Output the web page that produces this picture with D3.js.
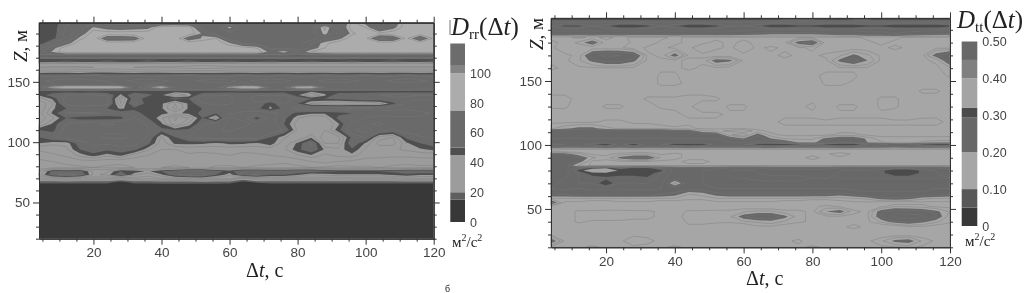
<!DOCTYPE html>
<html>
<head>
<meta charset="utf-8">
<script src="https://cdn.jsdelivr.net/npm/d3@7"></script>
<style>
  html, body { margin: 0; padding: 0; background: #fff; overflow: hidden; }
  .tick text { font-family: "Liberation Sans", sans-serif; fill: #444; }
  .serif { font-family: "Liberation Serif", serif; fill: #222; }
</style>
</head>
<body>
<svg id="chart" width="1024" height="293"></svg>
<script>
// lag values, same for both panels
const dtValues = [4, 8, 12, 16, 20, 24, 28, 32, 36, 40, 44, 48, 52, 56, 60, 64, 68, 72, 76, 80, 84, 88, 92, 96, 100, 104, 108, 112, 116, 120]

// D_rr, heights are not evenly spaced because the thin layers need more rows
const rrZ = [20, 40, 62, 65, 67, 70, 73, 76, 79, 84, 89, 94, 99, 104, 110, 115, 120, 124, 128, 132, 136, 139, 142, 143.8, 145.5, 147.2, 151, 155, 157, 159, 162, 165, 167, 168.5, 170, 171.5, 173, 175, 178, 182, 186, 190, 195, 199]
const rrGrid = [
  [6,6,6,7,7, 6,6,6,6,7, 7,6,6,6,6, 6,7,7,6,6, 6,6,7,7,6, 6,6,6,6,6],
  [9,9,9,8,9, 9,9,9,8,9, 9,9,9,8,9, 9,9,9,9,8, 9,9,9,9,9, 9,8,9,9,9],
  [11,11,11,11,11, 11,10,11,11,11, 11,11,11,11,11, 10,11,11,11,11, 11,11,11,11,11, 11,11,11,11,11],
  [14,14,14,14,14, 14,12,14,14,14, 14,14,14,14,14, 11,13,14,14,14, 14,14,14,14,14, 14,14,14,14,14],
  [17,17,17,17,17, 17,14,17,17,18, 18,18,18,18,17, 14,16,17,17,17, 17,17,17,17,17, 17,17,17,17,17],
  [32,34,35,34,33, 33,27,34,33,36, 38,38,40,36,38, 24,33,34,34,34, 34,34,32,34,34, 34,34,36,36,36],
  [38,55,60,56,40, 42,56,42,38,44, 55,62,60,50,42, 55,58,50,50,46, 40,42,44,44,44, 44,46,48,46,46],
  [34,52,50,52,40, 40,50,48,44,50, 55,60,58,52,48, 55,56,54,55,56, 55,52,50,50,50, 50,52,55,55,55],
  [28,29,30,30,31, 30,30,31,32,31, 30,31,32,30,30, 31,30,29,29,30, 31,30,29,30,30, 31,30,29,30,30],
  [30,31,32,34,34, 33,32,33,34,33, 33,34,35,34,33, 34,33,33,32,33, 36,38,36,35,34, 33,33,33,33,33],
  [33,35,37,42,47, 42,46,38,36,35, 35,35,35,35,36, 35,35,36,37,40, 44,40,42,43,38, 38,37,37,38,38],
  [37,38,40,50,55, 52,54,52,42,36, 36,38,37,38,38, 37,38,38,40,48, 56,44,42,49,40, 40,40,42,44,46],
  [45,42,42,54,58, 58,60,60,52,38, 46,46,46,44,46, 46,44,48,38,46, 58,36,36,56,44, 34,34,44,50,54],
  [50,56,60,62,62, 64,64,62,56,40, 50,58,60,60,60, 60,60,50,42,36, 44,32,34,52,58, 38,36,52,56,58],
  [50,48,60,62,62, 62,62,62,58,52, 50,52,60,62,64, 60,62,62,56,40, 36,36,48,62,66, 60,56,60,62,62],
  [36,46,58,60,62, 64,62,62,56,46, 32,42,56,60,64, 66,60,62,50,38, 36,36,44,60,62, 64,60,58,60,60],
  [32,40,50,47,46, 46,48,58,50,42, 30,36,50,38,64, 60,47,60,52,42, 36,38,52,50,58, 62,60,60,58,58],
  [34,46,58,58,58, 56,54,54,46,46, 44,46,52,50,56, 60,60,60,54,48, 46,46,48,50,50, 52,50,50,54,58],
  [30,44,50,52,50, 50,44,48,50,46, 34,46,50,52,50, 50,52,44,52,60, 62,62,62,64,64, 62,62,60,62,62],
  [32,40,60,62,62, 60,36,60,46,46, 36,46,56,60,58, 52,56,46,58,50, 40,38,36,36,36, 38,48,58,60,60],
  [38,46,60,62,62, 60,34,55,46,48, 52,50,62,60,60, 52,62,60,60,56, 50,50,52,54,56, 56,56,56,56,56],
  [46,54,57,58,58, 56,44,56,52,46, 36,42,56,56,57, 56,57,56,57,46, 36,44,54,56,56, 57,58,58,57,57],
  [47,46,47,46,47, 46,47,47,47,46, 47,47,46,47,47, 47,46,47,47,47, 46,47,47,46,47, 47,47,47,47,47],
  [62,64,66,66,66, 66,64,60,62,64, 60,60,60,60,62, 66,66,60,62,64, 64,62,60,62,60, 60,60,60,60,60],
  [60,84,95,95,95, 95,95,60,70,92, 60,60,60,60,80, 95,95,60,62,90, 92,62,60,62,60, 60,60,60,60,60],
  [60,62,66,66,66, 66,62,60,62,62, 60,60,60,60,62, 66,62,60,60,62, 62,60,60,60,60, 60,60,60,60,60],
  [62,64,66,66,64, 62,62,64,66,64, 62,62,64,66,64, 62,64,66,64,62, 62,64,66,64,62, 62,64,66,64,62],
  [56,56,56,58,58, 56,56,58,56,56, 58,58,56,56,56, 58,56,56,58,56, 56,58,56,56,58, 56,56,58,56,56],
  [46,47,47,46,48, 47,47,46,47,47, 46,47,47,46,47, 47,46,47,47,46, 47,47,46,47,47, 46,47,47,46,47],
  [38,38,39,40,40, 41,40,39,38,38, 37,37,37,37,38, 38,38,38,38,38, 38,38,38,38,38, 38,38,38,38,38],
  [30,30,30,30,31, 32,32,31,30,30, 30,29,28,29,30, 30,30,30,30,30, 30,30,30,30,30, 30,30,30,30,30],
  [36,35,35,34,35, 36,36,36,35,35, 35,34,34,34,34, 34,34,34,35,35, 35,35,35,35,35, 35,35,35,35,35],
  [50,50,52,50,50, 52,50,50,52,50, 50,52,50,50,52, 50,50,52,50,50, 52,50,50,52,50, 50,52,50,50,52],
  [46,47,46,45,46, 47,46,45,47,46, 45,47,46,45,46, 47,46,45,47,46, 45,46,47,46,45, 46,47,46,45,46],
  [62,60,62,60,62, 60,62,60,62,60, 62,60,62,60,62, 60,62,60,62,60, 62,60,62,60,62, 60,62,60,62,60],
  [48,47,47,48,47, 47,48,47,47,48, 47,47,48,47,47, 48,47,47,48,47, 47,48,47,47,48, 47,47,48,47,47],
  [66,68,72,72,72, 72,72,72,72,72, 72,72,72,72,72, 72,72,68,70,66, 68,70,72,72,72, 72,72,72,72,72],
  [66,76,85,85,85, 85,85,85,85,85, 85,85,85,85,85, 85,85,72,78,68, 80,85,85,85,85, 85,85,85,85,85],
  [60,72,85,85,85, 85,85,85,85,85, 85,85,85,85,85, 85,80,62,62,60, 70,80,85,85,85, 85,85,85,85,85],
  [46,58,70,85,85, 85,85,85,85,85, 85,85,85,85,76, 62,60,60,60,60, 68,78,85,85,85, 85,85,85,85,85],
  [46,48,58,78,85, 66,66,68,85,85, 85,68,76,80,60, 60,60,60,60,60, 60,66,72,85,82, 62,64,82,64,82],
  [46,46,60,68,85, 85,85,85,85,85, 85,85,74,60,60, 60,60,60,60,60, 60,78,60,78,85, 82,85,85,85,85],
  [46,46,58,62,76, 70,68,70,72,85, 85,85,60,60,78, 60,60,60,60,60, 60,82,62,85,80, 62,72,85,85,85],
  [46,46,55,60,60, 60,60,60,60,62, 64,62,60,60,60, 60,60,60,60,60, 60,60,60,82,72, 60,66,85,85,85]
]
const rrBreaks = [0, 15, 20, 45, 50, 75, 100, 105, 120]
const rrLines = [25, 31, 36, 41, 57, 63, 68, 80]
const rrBarTicks = [0, 20, 40, 60, 80, 100]

// D_tt
const ttZ = [20, 25, 30, 36, 40, 44, 48, 52, 55, 58, 61, 66, 70, 74, 78, 80, 82, 84, 87, 90, 93, 95, 97, 99, 100.5, 102, 105, 108, 111, 113, 118, 124, 130, 136, 142, 148, 154, 160, 166, 170, 176, 180, 184, 187, 190, 193, 196, 199]
const ttGrid = [
  [.15,.15,.15,.16,.15, .15,.15,.15,.15,.16, .15,.15,.15,.15,.15, .14,.15,.15,.15,.16, .15,.15,.15,.15,.15, .15,.16,.15,.15,.15],
  [.23,.15,.14,.14,.15, .15,.17,.16,.15,.14, .14,.14,.14,.15,.15, .14,.14,.15,.16,.14, .14,.14,.15,.15,.17, .21,.22,.17,.15,.15],
  [.15,.15,.14,.14,.14, .15,.15,.15,.15,.15, .14,.13,.13,.14,.14, .13,.13,.14,.14,.13, .13,.13,.14,.14,.14, .14,.14,.14,.14,.14],
  [.15,.14,.14,.15,.15, .15,.14,.13,.13,.13, .15,.15,.14,.13,.13, .15,.15,.14,.13,.13, .15,.15,.16,.15,.13, .13,.15,.15,.14,.14],
  [.15,.14,.16,.15,.15, .15,.14,.15,.15,.14, .16,.16,.16,.16,.17, .18,.19,.17,.16,.15, .15,.15,.15,.15,.18, .22,.23,.21,.18,.16],
  [.15,.14,.16,.17,.17, .17,.17,.16,.15,.14, .17,.17,.17,.17,.22, .25,.25,.21,.16,.15, .15,.15,.15,.15,.23, .27,.28,.27,.23,.16],
  [.15,.14,.16,.16,.16, .16,.16,.16,.15,.14, .16,.16,.16,.16,.17, .18,.18,.16,.16,.15, .20,.22,.16,.15,.22, .25,.24,.24,.21,.17],
  [.15,.14,.13,.13,.14, .14,.13,.13,.14,.14, .13,.13,.14,.14,.14, .13,.13,.14,.14,.15, .16,.15,.14,.14,.15, .17,.17,.16,.15,.15],
  [.24,.15,.15,.14,.14, .15,.15,.15,.14,.14, .14,.14,.15,.15,.15, .15,.15,.14,.14,.14, .14,.15,.15,.15,.14, .14,.14,.15,.15,.15],
  [.17,.17,.17,.17,.17, .17,.17,.17,.17,.17, .16,.16,.17,.17,.17, .17,.17,.17,.17,.16, .16,.16,.17,.18,.21, .22,.21,.18,.17,.17],
  [.22,.22,.23,.23,.23, .23,.23,.23,.22,.21, .17,.18,.21,.22,.22, .22,.22,.22,.22,.22, .22,.21,.22,.25,.25, .25,.25,.25,.24,.22],
  [.26,.27,.26,.27,.27, .27,.27,.27,.26,.25, .24,.24,.26,.26,.26, .26,.26,.26,.26,.26, .26,.26,.27,.27,.27, .27,.27,.27,.26,.26],
  [.25,.27,.28,.28,.31, .28,.28,.28,.27,.16, .25,.26,.27,.27,.27, .27,.27,.27,.27,.27, .27,.27,.27,.27,.27, .27,.27,.27,.27,.27],
  [.24,.26,.28,.28,.29, .29,.28,.29,.27,.24, .25,.26,.27,.28,.28, .29,.29,.29,.29,.28, .28,.28,.28,.28,.28, .28,.28,.28,.28,.28],
  [.24,.25,.28,.31,.31, .30,.31,.31,.28,.25, .25,.26,.27,.28,.28, .28,.27,.27,.27,.27, .27,.28,.28,.28,.29, .31,.31,.29,.28,.27],
  [.24,.25,.30,.36,.38, .31,.31,.31,.30,.25, .25,.26,.27,.28,.28, .28,.27,.27,.27,.27, .27,.28,.28,.28,.29, .31,.31,.29,.28,.27],
  [.24,.24,.27,.30,.31, .28,.30,.30,.27,.25, .24,.24,.25,.26,.26, .26,.25,.25,.25,.25, .25,.26,.26,.26,.26, .27,.27,.26,.26,.25],
  [.24,.24,.17,.15,.15, .15,.15,.15,.15,.15, .15,.15,.15,.15,.15, .15,.15,.15,.15,.15, .15,.15,.15,.15,.15, .15,.15,.15,.15,.15],
  [.25,.25,.22,.15,.15, .15,.15,.15,.15,.15, .16,.16,.15,.15,.15, .15,.15,.15,.15,.15, .15,.15,.15,.15,.15, .15,.15,.15,.15,.15],
  [.25,.26,.24,.18,.16, .21,.24,.24,.17,.16, .15,.15,.15,.15,.15, .15,.15,.15,.15,.16, .15,.15,.15,.15,.15, .15,.15,.15,.15,.15],
  [.24,.22,.18,.15,.15, .16,.17,.17,.15,.16, .15,.14,.14,.15,.15, .15,.15,.15,.15,.15, .15,.17,.15,.14,.14, .14,.14,.14,.14,.14],
  [.14,.14,.14,.14,.14, .14,.14,.14,.14,.14, .14,.14,.14,.14,.14, .14,.14,.14,.14,.14, .14,.14,.14,.14,.14, .14,.14,.14,.14,.14],
  [.17,.16,.16,.16,.16, .16,.16,.16,.16,.16, .16,.16,.16,.16,.16, .16,.16,.16,.16,.16, .16,.16,.16,.16,.16, .16,.16,.16,.16,.16],
  [.27,.27,.26,.26,.28, .26,.28,.26,.26,.26, .28,.27,.26,.26,.27, .27,.28,.27,.26,.26, .27,.28,.28,.26,.25, .24,.25,.27,.27,.27],
  [.28,.28,.27,.29,.31, .27,.31,.27,.28,.31, .31,.31,.27,.27,.28, .30,.31,.31,.30,.28, .30,.31,.31,.28,.27, .25,.26,.30,.31,.31],
  [.26,.26,.26,.26,.26, .26,.26,.26,.26,.26, .26,.26,.26,.26,.26, .27,.26,.24,.20,.19, .23,.25,.25,.20,.18, .16,.16,.18,.19,.19],
  [.26,.26,.26,.26,.26, .26,.26,.26,.26,.26, .26,.26,.26,.24,.20, .24,.20,.17,.17,.17, .21,.24,.24,.19,.16, .16,.16,.16,.16,.16],
  [.25,.25,.25,.25,.25, .25,.25,.25,.25,.25, .25,.25,.24,.16,.13, .22,.16,.15,.15,.15, .15,.16,.16,.15,.15, .15,.15,.15,.15,.15],
  [.25,.25,.25,.26,.25, .25,.25,.25,.25,.23, .23,.18,.17,.18,.20, .16,.15,.15,.15,.15, .15,.15,.15,.15,.15, .15,.15,.15,.15,.15],
  [.17,.19,.21,.21,.18, .17,.17,.17,.17,.16, .16,.15,.15,.15,.15, .15,.15,.15,.15,.15, .15,.15,.15,.15,.15, .15,.15,.15,.15,.15],
  [.15,.15,.15,.15,.16, .16,.15,.15,.14,.14, .15,.15,.15,.15,.15, .15,.15,.16,.16,.16, .16,.16,.16,.16,.16, .16,.16,.16,.16,.15],
  [.14,.14,.14,.14,.14, .14,.14,.14,.14,.15, .16,.16,.16,.15,.15, .15,.15,.15,.15,.15, .14,.15,.15,.15,.15, .14,.14,.15,.15,.15],
  [.16,.16,.14,.14,.16, .16,.14,.14,.16,.16, .16,.14,.14,.16,.16, .14,.14,.14,.15,.16, .14,.16,.16,.14,.16, .16,.14,.14,.14,.14],
  [.16,.16,.15,.14,.14, .14,.14,.16,.16,.16, .16,.16,.16,.14,.14, .14,.14,.14,.14,.15, .14,.14,.14,.14,.16, .16,.14,.14,.14,.14],
  [.15,.15,.14,.14,.14, .14,.14,.14,.14,.14, .15,.15,.14,.14,.14, .14,.14,.14,.15,.14, .14,.14,.14,.15,.14, .14,.14,.16,.16,.14],
  [.14,.14,.14,.14,.15, .15,.14,.14,.16,.16, .15,.14,.14,.15,.15, .15,.15,.14,.14,.14, .16,.16,.15,.14,.14, .14,.14,.14,.14,.14],
  [.14,.14,.14,.14,.14, .14,.14,.14,.16,.16, .14,.14,.14,.14,.14, .14,.14,.14,.15,.15, .16,.16,.16,.14,.14, .14,.14,.14,.14,.16],
  [.16,.15,.15,.15,.15, .15,.15,.15,.15,.15, .16,.15,.15,.14,.14, .14,.15,.15,.15,.15, .15,.15,.15,.15,.15, .15,.15,.15,.15,.17],
  [.15,.15,.17,.21,.24, .24,.21,.15,.15,.15, .16,.16,.22,.21,.15, .15,.14,.15,.15,.15, .15,.21,.24,.20,.15, .14,.15,.15,.16,.24],
  [.14,.15,.16,.25,.27, .26,.25,.15,.16,.22, .15,.15,.14,.14,.15, .15,.15,.16,.15,.15, .16,.17,.21,.18,.15, .14,.15,.15,.22,.26],
  [.15,.17,.16,.16,.16, .16,.14,.16,.16,.15, .15,.17,.16,.15,.17, .15,.16,.15,.15,.16, .14,.14,.14,.14,.15, .16,.15,.14,.15,.15],
  [.15,.16,.18,.23,.16, .17,.15,.14,.16,.16, .15,.15,.16,.15,.16, .15,.14,.15,.22,.24, .14,.14,.15,.15,.16, .15,.14,.14,.15,.15],
  [.16,.16,.15,.16,.15, .16,.15,.15,.15,.16, .15,.15,.15,.15,.15, .15,.15,.15,.15,.15, .15,.15,.15,.16,.16, .16,.15,.15,.15,.15],
  [.24,.24,.24,.24,.24, .24,.24,.24,.24,.24, .24,.24,.24,.24,.23, .22,.21,.21,.21,.21, .22,.24,.24,.25,.25, .26,.25,.24,.23,.22],
  [.27,.27,.27,.27,.27, .27,.27,.27,.27,.27, .27,.27,.27,.27,.27, .26,.26,.26,.26,.26, .27,.27,.27,.27,.27, .27,.27,.27,.27,.27],
  [.28,.30,.30,.28,.29, .31,.31,.30,.28,.29, .31,.31,.30,.28,.28, .29,.31,.31,.30,.30, .31,.31,.31,.30,.30, .31,.31,.31,.31,.30],
  [.26,.26,.26,.26,.26, .26,.26,.26,.26,.26, .26,.26,.26,.26,.26, .26,.26,.26,.26,.26, .26,.26,.26,.26,.26, .26,.26,.26,.26,.26],
  [.24,.24,.24,.24,.24, .24,.24,.24,.24,.24, .24,.24,.24,.24,.23, .23,.20,.17,.17,.17, .21,.23,.17,.16,.22, .24,.24,.22,.21,.24]
]
const ttBreaks = [0, .05, .1, .2, .295, .32, .4, .45, .5]
const ttLines = [.125, .155, .175, .225, .26, .28]
const ttBarTicks = [0, .1, .2, .3, .4, .5]

const xMajor = [20, 40, 60, 80, 100, 120]
const xMinor = [5, 10, 15, 25, 30, 35, 45, 50, 55, 65, 70, 75, 85, 90, 95, 105, 110, 115]
const zMajor = [50, 100, 150]
const zMinor = [20, 30, 40, 60, 70, 80, 90, 110, 120, 130, 140, 160, 170, 180, 190]

const svg = d3.select('#chart')
const defs = svg.append('defs')
defs.append('filter').attr('id', 'soft')
  .attr('x', '-2%').attr('y', '-2%').attr('width', '104%').attr('height', '104%')
  .append('feGaussianBlur').attr('stdDeviation', 0.55)
defs.append('filter').attr('id', 'softText')
  .attr('x', '-10%').attr('y', '-10%').attr('width', '120%').attr('height', '120%')
  .append('feGaussianBlur').attr('stdDeviation', 0.35)

const drawPanel = p => {
  const x = d3.scaleLinear().domain([4, 120]).range([p.left, p.right])
  const y = d3.scaleLinear().domain([20, 199]).range([p.bottom, p.top])
  const color = d3.scaleThreshold().domain(p.breaks.slice(1, -1)).range(p.grays)

  const g = svg.append('g')

  // the grid cell centres sit at i + 0.5 in d3.contours space
  const cellToDt = d3.scaleLinear().domain(dtValues.map((d, i) => i + 0.5)).range(dtValues).clamp(true)
  const cellToZ = d3.scaleLinear().domain(p.zs.map((d, i) => i + 0.5)).range(p.zs).clamp(true)
  const path = d3.geoPath(d3.geoTransform({
    point (a, b) { this.stream.point(x(cellToDt(a)), y(cellToZ(b))) }
  }))
  const contours = d3.contours().size([dtValues.length, p.zs.length])
  const values = p.grid.flat()

  const plot = g.append('g').attr('filter', 'url(#soft)')
  plot.selectAll('path.band')
    .data(contours.thresholds(p.breaks.slice(0, -1))(values))
    .enter().append('path')
    .attr('class', 'band')
    .attr('d', path)
    .attr('fill', d => color(d.value))
  plot.selectAll('path.line')
    .data(contours.thresholds(p.lines)(values))
    .enter().append('path')
    .attr('class', 'line')
    .attr('d', path)
    .attr('fill', 'none')
    .attr('stroke', '#777')
    .attr('stroke-width', 0.5)
    .attr('stroke-opacity', 0.8)

  // axes, long ticks with labels and short ticks without
  const ticks = g.append('g').attr('filter', 'url(#softText)')
  const addAxis = (axis, scale, major, minor, tx, ty, labels) => {
    const a = ticks.append('g').attr('transform', `translate(${tx},${ty})`)
    a.call(axis(scale).tickValues(major).tickSize(6).tickSizeOuter(0).tickFormat(labels ? d => d : ''))
    a.selectAll('.tick text').style('font-size', '13.5px')
    const b = ticks.append('g').attr('transform', `translate(${tx},${ty})`)
    b.call(axis(scale).tickValues(minor).tickSize(3).tickSizeOuter(0).tickFormat(''))
    ticks.selectAll('.domain, line').attr('stroke', '#333')
  }
  addAxis(d3.axisBottom, x, xMajor, xMinor, 0, p.bottom, true)
  addAxis(d3.axisTop, x, xMajor, xMinor, 0, p.top, false)
  addAxis(d3.axisLeft, y, zMajor, zMinor, p.left, 0, true)
  addAxis(d3.axisRight, y, zMajor, zMinor, p.right, 0, false)

  // colour bar
  const barY = d3.scaleLinear().domain(p.barDomain).range(p.barRange)
  g.append('g').attr('filter', 'url(#softText)')
    .selectAll('rect')
    .data(d3.pairs(p.breaks))
    .enter().append('rect')
    .attr('x', p.barX)
    .attr('width', p.barW)
    .attr('y', d => barY(d[1]))
    .attr('height', d => barY(d[0]) - barY(d[1]))
    .attr('fill', d => color(d[0]))
  const barAxis = g.append('g')
    .attr('filter', 'url(#softText)')
    .attr('transform', `translate(${p.barX + p.barW + 2},0)`)
    .call(d3.axisRight(barY).tickValues(p.barTicks).tickSize(0).tickFormat(p.barFormat))
  barAxis.select('.domain').remove()
  barAxis.selectAll('.tick text').style('font-size', '12.5px').attr('x', 3)

  // titles
  const label = (tx, ty, size, rotate) => g.append('text')
    .attr('class', 'serif')
    .attr('transform', `translate(${tx},${ty})` + (rotate ? ' rotate(-90)' : ''))
    .attr('font-size', size)
    .attr('filter', 'url(#softText)')
  const xt = label(p.xTitle[0], p.xTitle[1], 20)
  xt.append('tspan').text('Δ')
  xt.append('tspan').attr('font-style', 'italic').text('t')
  xt.append('tspan').text(', с')
  const zt = label(p.zTitle[0], p.zTitle[1], 19, true)
  zt.append('tspan').attr('font-style', 'italic').text('Z')
  zt.append('tspan').text(', м')
  const dt = label(p.title[0], p.title[1], 25)
  dt.append('tspan').attr('font-style', 'italic').text('D')
  dt.append('tspan').attr('font-size', 15).attr('dy', 4).text(p.sub)
  dt.append('tspan').attr('dy', -4).text('(Δ')
  dt.append('tspan').attr('font-style', 'italic').text('t')
  dt.append('tspan').text(')')
  const un = label(p.unit[0], p.unit[1], 15)
  un.append('tspan').text('м')
  un.append('tspan').attr('font-size', 10).attr('dy', -6).text('2')
  un.append('tspan').attr('dy', 6).text('/с')
  un.append('tspan').attr('font-size', 10).attr('dy', -6).text('2')
}

drawPanel({
  zs: rrZ, grid: rrGrid, breaks: rrBreaks, lines: rrLines,
  grays: ['#383838', '#5e5e5e', '#9c9c9c', '#505050', '#6a6a6a', '#acacac', '#848484', '#6c6c6c'],
  left: 39, right: 433.7, top: 22.7, bottom: 238.7,
  barX: 450.3, barW: 14.7, barDomain: [0, 120], barRange: [222, 43.5], barTicks: rrBarTicks, barFormat: d => d,
  xTitle: [246, 277], zTitle: [27, 62], title: [451, 35], unit: [452, 247], sub: 'rr'
})

drawPanel({
  zs: ttZ, grid: ttGrid, breaks: ttBreaks, lines: ttLines,
  grays: ['#383838', '#585858', '#a6a6a6', '#686868', '#4c4c4c', '#a4a4a4', '#808080', '#686868'],
  left: 551, right: 950, top: 18.3, bottom: 247.3,
  barX: 961.7, barW: 15.6, barDomain: [0, .5], barRange: [226, 41.5], barTicks: ttBarTicks,
  barFormat: d => (d === 0 ? '0' : d3.format('.2f')(d)),
  xTitle: [746, 285], zTitle: [543, 50], title: [957, 28], unit: [965, 246], sub: 'tt'
})

// stray rule in front of the left title, and the caption letter at the foot of the page
svg.append('line').attr('x1', 450).attr('x2', 450).attr('y1', 20).attr('y2', 35)
  .attr('stroke', '#555').attr('stroke-width', 0.8)
svg.append('text').attr('class', 'serif').attr('x', 445).attr('y', 292).attr('font-size', 10).text('б')
</script>
</body>
</html>
